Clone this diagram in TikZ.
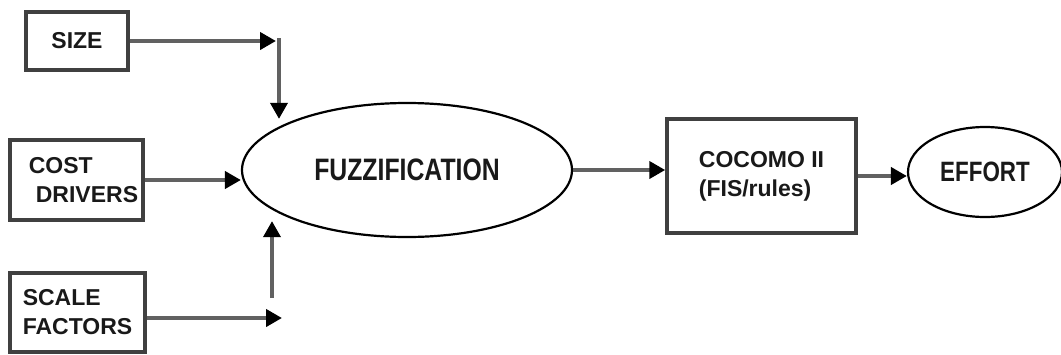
\documentclass[tikz,border=0pt]{standalone}
\usepackage{fontspec}
\setmainfont{Liberation Sans}
\newfontfamily\narrowfont{Liberation Sans}[FakeStretch=0.8]
\usetikzlibrary{shapes.geometric, arrows.meta}

\begin{document}
\begin{tikzpicture}[x=1pt, y=-1pt]
    \tikzstyle{every node} = [inner sep=0pt, text=black!90]
    \tikzstyle{blk}  = [draw=boxgray, line width=3.5pt, rectangle, font=\fontsize{23}{29}\selectfont\bfseries]
    \tikzstyle{oval} = [draw=black, line width=2.2pt, ellipse, font=\narrowfont\fontsize{31}{36}\selectfont\bfseries]
    \tikzstyle{conn} = [draw=linegray, line width=4.5pt, -{Triangle[length=16pt, width=17pt, color=black]}]

    \definecolor{linegray}{rgb}{0.380,0.380,0.380}
    \definecolor{boxgray}{rgb}{0.250,0.250,0.250}

    \useasboundingbox (0,0) rectangle (1061,354);

    % inputs
    \node[blk, minimum width=102pt, minimum height=58pt] (size) at (77,41) {SIZE};
    \node[blk, minimum width=133pt, minimum height=80pt, align=left] (cost) at (76.5,180)
        {\hspace*{14pt}COST\\\hspace*{21pt}DRIVERS};
    \node[blk, minimum width=135pt, minimum height=79pt, align=left] (scale) at (77.5,312.5)
        {SCALE\\FACTORS};

    % fuzzy part
    \node[oval, minimum width=330pt, minimum height=134pt] (fuzz) at (407,170) {FUZZIFICATION};
    \node[blk, minimum width=189pt, minimum height=114pt, align=left] (cocomo) at (761.5,176)
        {COCOMO II\\(FIS/rules)};
    \node[oval, minimum width=154pt, minimum height=90pt, font=\narrowfont\fontsize{28}{32}\selectfont\bfseries] (effort) at (985,172) {EFFORT};

    \coordinate (sizetip) at (276,41);
    \coordinate (sizedown) at (279,38);
    \coordinate (scaletip) at (282,318);
    \coordinate (scaleup) at (272,298);

    \draw[conn] (size.east) -- (sizetip);
    \draw[conn, line width=3.5pt] (sizedown) -- (sizedown |- fuzz.155);
    \draw[conn] (cost.east) -- (cost.east -| fuzz.west);
    \draw[conn] (scaletip -| scale.east) -- (scaletip);
    \draw[conn, line width=3.5pt] (scaleup) -- (scaleup |- fuzz.205);
    \draw[conn] (fuzz.east) -- (fuzz.east -| cocomo.west);
    \draw[conn] (cocomo.east) -- (cocomo.east -| effort.west);
\end{tikzpicture}
\end{document}
